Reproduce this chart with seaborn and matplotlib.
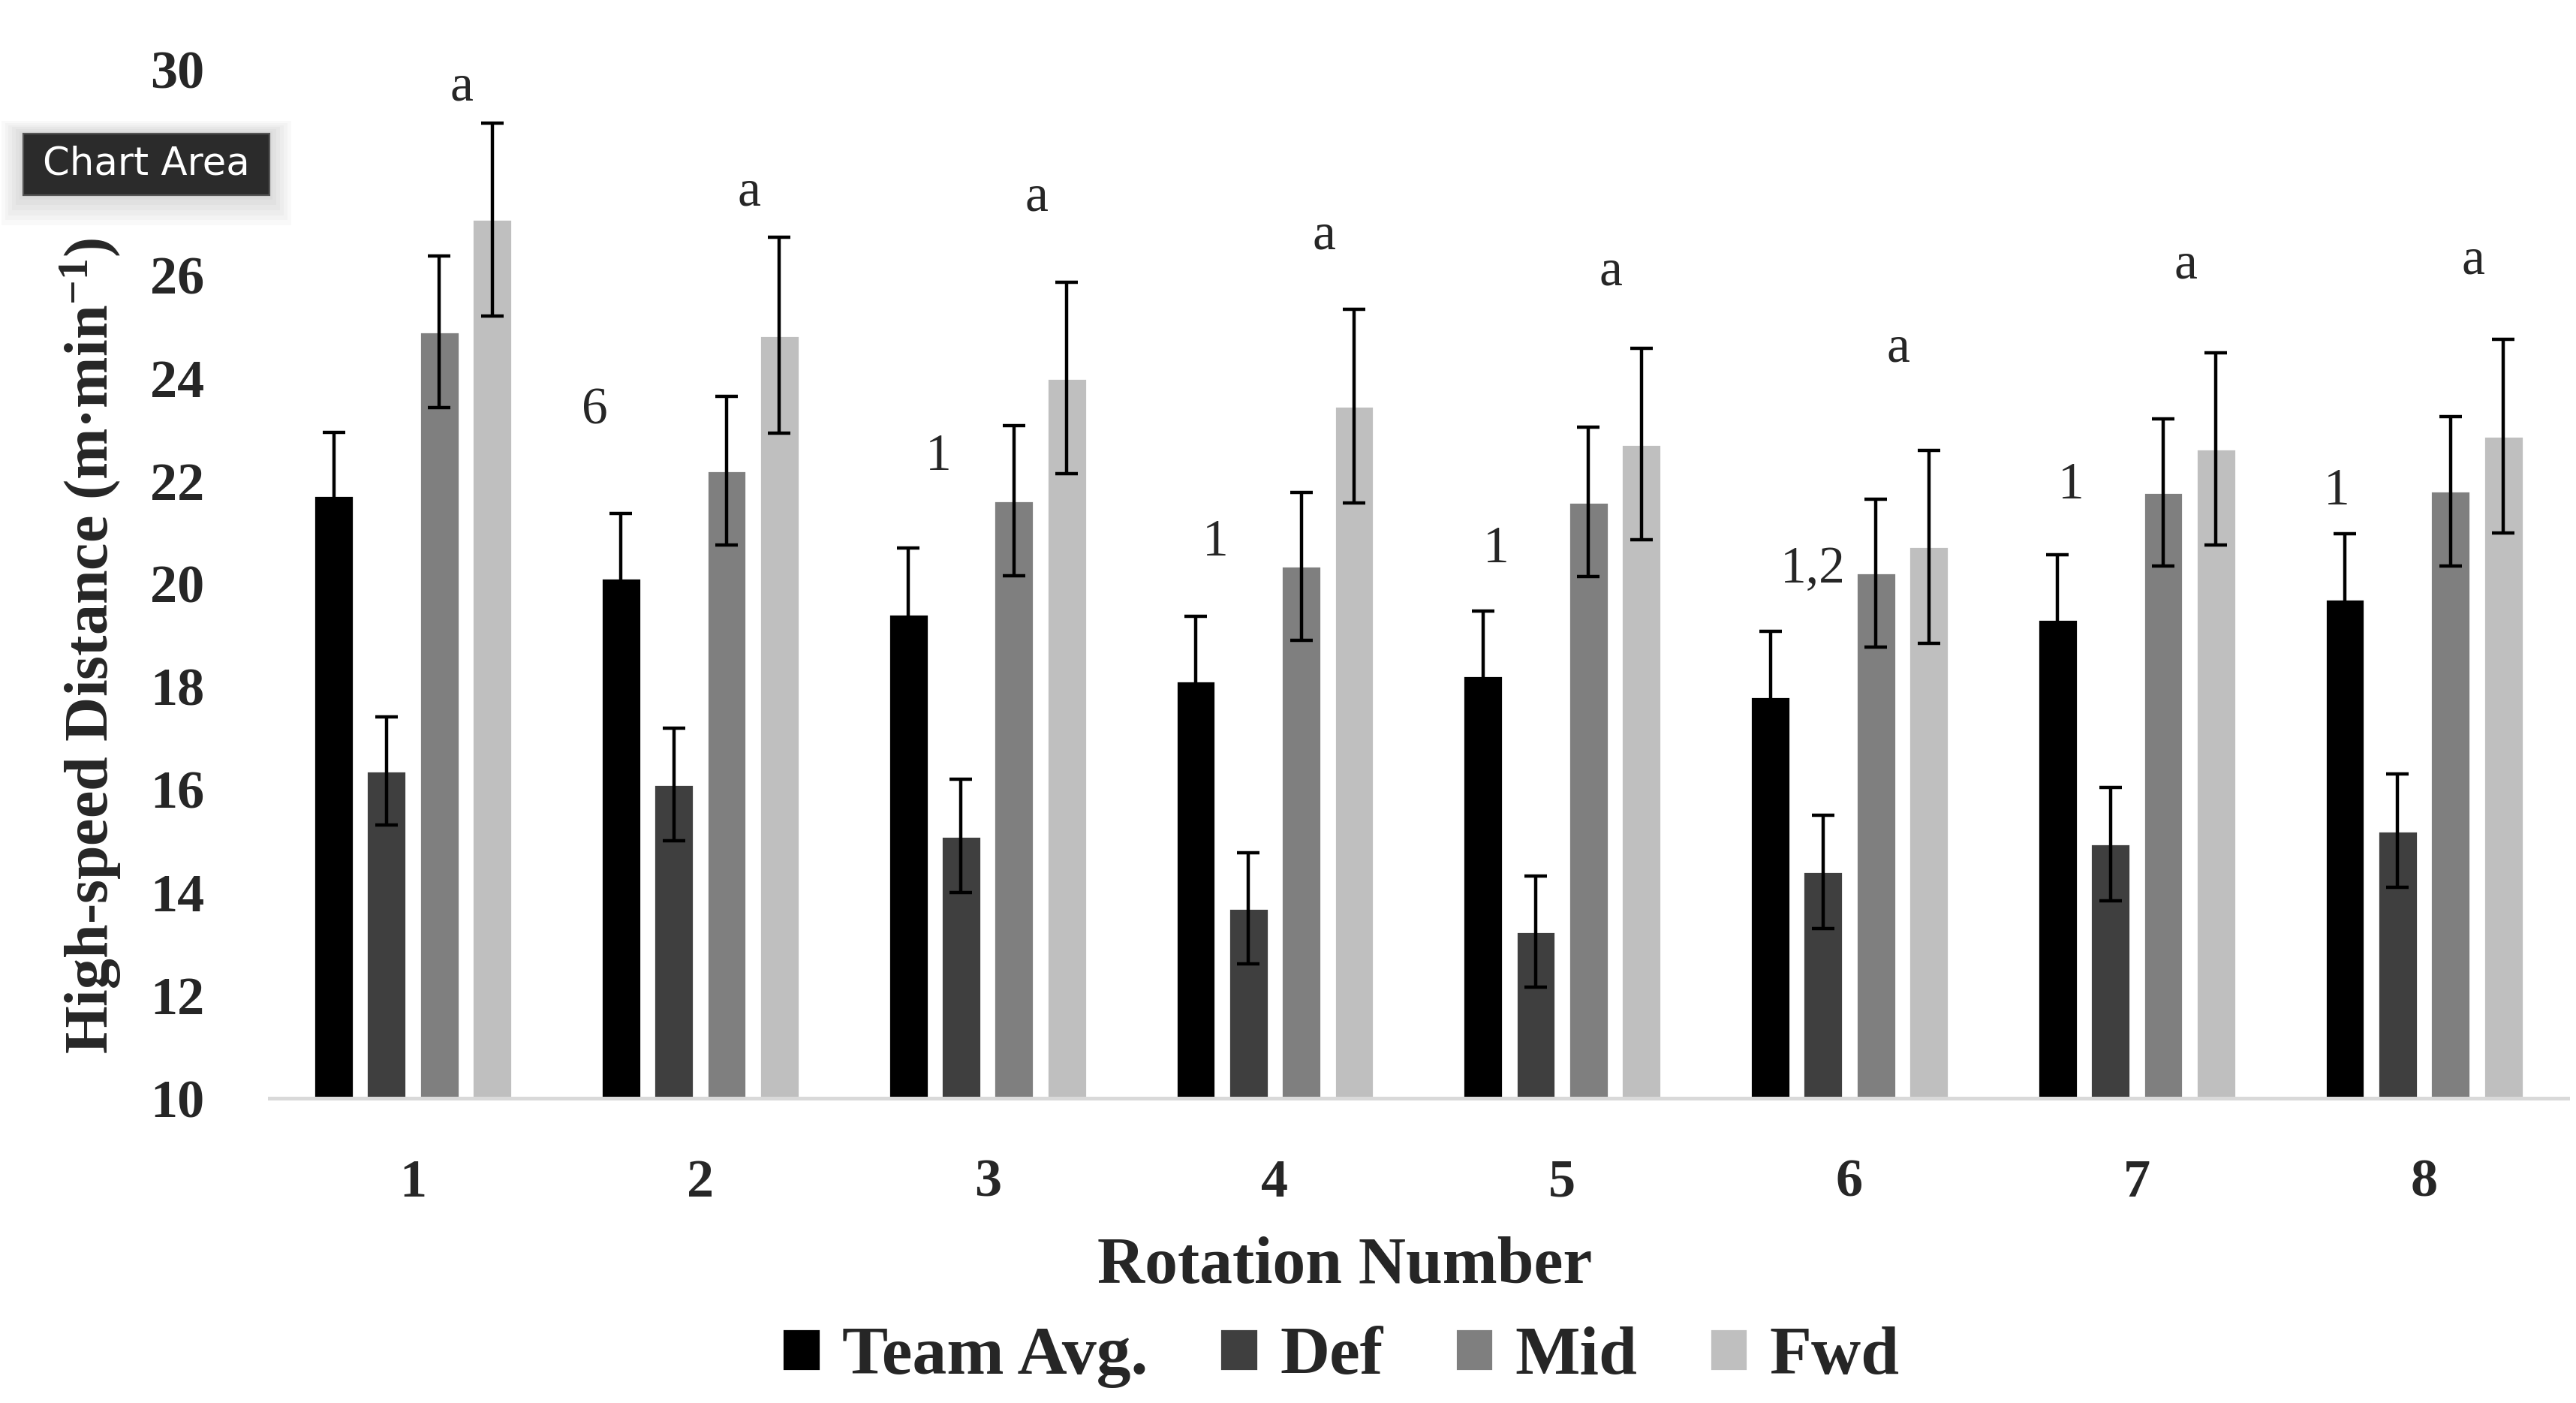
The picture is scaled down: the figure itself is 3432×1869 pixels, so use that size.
import matplotlib
matplotlib.use("Agg")
import matplotlib.pyplot as plt
import seaborn as sns
import pandas as pd
from matplotlib.patches import Rectangle

# ---------------- data ----------------
rotations = ["1", "2", "3", "4", "5", "6", "7", "8"]
positions = ["Team Avg.", "Def", "Mid", "Fwd"]

team_avg = [21.72, 20.11, 19.41, 18.12, 18.22, 17.80, 19.31, 19.70]
team_err = [1.22, 1.25, 1.28, 1.25, 1.25, 1.28, 1.25, 1.28]
def_vals = [16.36, 16.10, 15.10, 13.69, 13.24, 14.40, 14.94, 15.20]
def_err = [1.05, 1.10, 1.10, 1.08, 1.08, 1.10, 1.10, 1.10]
mid_vals = [24.90, 22.20, 21.62, 20.34, 21.59, 20.21, 21.78, 21.80]
mid_err = [1.47, 1.45, 1.46, 1.44, 1.45, 1.44, 1.43, 1.45]
fwd_vals = [27.08, 24.83, 24.00, 23.45, 22.71, 20.72, 22.62, 22.87]
fwd_err = [1.88, 1.90, 1.86, 1.88, 1.86, 1.87, 1.87, 1.88]

# significance letters above forwards
a_labels = ["a"] * 8
a_heights = [29.65, 27.60, 27.50, 26.76, 26.05, 24.57, 26.18, 26.28]
# significance numbers near team average
num_labels = ["", "6", "1", "1", "1", "1,2", "1", "1"]
num_heights = [None, 23.35, 22.46, 20.79, 20.66, 20.27, 21.91, 21.78]
num_xoffsets = [0, -0.367, -0.172, -0.207, -0.23, -0.126, -0.23, -0.304]

yticks = [10, 12, 14, 16, 18, 20, 22, 24, 26, 28, 30]
# the "28" label is hidden behind the "Chart Area" tooltip in the reference
ytick_labels = ["10", "12", "14", "16", "18", "20", "22", "24", "26", "", "30"]
colors = ["#000000", "#3f3f3f", "#7f7f7f", "#bfbfbf"]

values = {"Team Avg.": team_avg, "Def": def_vals, "Mid": mid_vals, "Fwd": fwd_vals}
errors = {"Team Avg.": team_err, "Def": def_err, "Mid": mid_err, "Fwd": fwd_err}

rows = []
for p in positions:
    for r, v in zip(rotations, values[p]):
        rows.append({"Rotation": r, "Position": p, "Value": v})
df = pd.DataFrame(rows)

# ---------------- style ----------------
sns.set_theme(style="white")
plt.rcParams["font.family"] = ["Liberation Serif", "DejaVu Serif"]
plt.rcParams["mathtext.fontset"] = "custom"
plt.rcParams["mathtext.rm"] = "Liberation Serif"
plt.rcParams["mathtext.bf"] = "Liberation Serif:bold"
plt.rcParams["mathtext.it"] = "Liberation Serif:italic"

fig = plt.figure(figsize=(17.16, 9.345), dpi=200)
ax = fig.add_axes([0.1045, 0.2172, 0.8923, 0.7334])

sns.barplot(data=df, x="Rotation", y="Value", hue="Position",
            hue_order=positions, order=rotations, palette=colors,
            saturation=1, width=0.735, gap=0.25, errorbar=None, ax=ax)

# error bars
for cont, p in zip(ax.containers, positions):
    xs = [b.get_x() + b.get_width() / 2 for b in cont]
    ax.errorbar(xs, values[p], yerr=errors[p], fmt="none", ecolor="black",
                elinewidth=1.6, capsize=5.5, capthick=1.6, zorder=3)

ax.set_ylim(10, 30)
ax.set_xlim(-0.5, 7.5)
ax.set_yticks(yticks)
ax.set_yticklabels(ytick_labels)
ax.tick_params(axis="y", length=0, pad=31, labelsize=26)
ax.tick_params(axis="x", length=0, pad=29, labelsize=26)
for lab in ax.get_xticklabels() + ax.get_yticklabels():
    lab.set_fontweight("bold")

for s in ["top", "right", "left"]:
    ax.spines[s].set_visible(False)
ax.spines["bottom"].set_color("#d9d9d9")
ax.spines["bottom"].set_linewidth(1.8)
ax.grid(False)

ax.set_xlabel("Rotation Number", fontsize=31.5, fontweight="bold")
ax.xaxis.set_label_coords(0.468, -0.164)
ax.xaxis.label.set_va("center")
ax.set_ylabel("High-speed Distance (m·min$^{\\mathbf{-1}}$)", fontsize=29.5, fontweight="bold")
ax.yaxis.set_label_coords(-0.0776, 0.44)
ax.yaxis.label.set_va("center")

# annotations
for i, (lab, h) in enumerate(zip(a_labels, a_heights)):
    ax.text(i + 0.17, h, lab, ha="center", va="center", fontsize=25)
for i, (lab, h, dx) in enumerate(zip(num_labels, num_heights, num_xoffsets)):
    if lab:
        ax.text(i + dx, h, lab, ha="center", va="center", fontsize=25)

# legend
handles, labels = ax.get_legend_handles_labels()
if ax.get_legend() is not None:
    ax.get_legend().remove()
fig.legend(handles, labels, loc="center", bbox_to_anchor=(0.5205, 0.0324),
           ncol=4, frameon=False, handlelength=0.55, handleheight=0.55,
           handletextpad=0.32, columnspacing=1.05,
           prop={"family": "Liberation Serif", "weight": "bold", "size": 33})

# "Chart Area" tooltip overlay (with a soft shadow)
bx, by, bw, bh = 14 / 1560, 1 - 118 / 849.5, 149 / 1560, 37 / 849.5
for k in range(6, 0, -1):
    dx = k * 2.2 / 1560
    dy = k * 2.2 / 849.5
    fig.patches.append(Rectangle((bx - dx, by - dy * 1.4), bw + 2 * dx, bh + 2 * dy,
                                 transform=fig.transFigure, facecolor="black",
                                 edgecolor="none", alpha=0.025, zorder=4))
fig.patches.append(Rectangle((bx, by), bw, bh,
                             transform=fig.transFigure, facecolor="#2b2b2b",
                             edgecolor="#555555", linewidth=0.8, zorder=5))
fig.text(bx + bw / 2, by + bh / 2, "Chart Area", color="white",
         ha="center", va="center", fontsize=18.5, family="DejaVu Sans", zorder=6)

fig.savefig("out.png", dpi=200, facecolor="white")
